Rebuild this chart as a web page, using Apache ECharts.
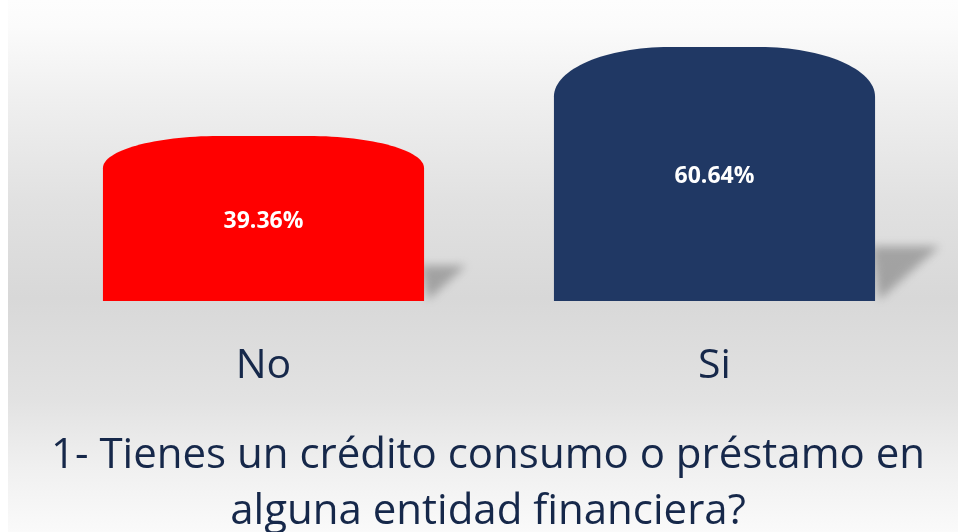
<!DOCTYPE html>
<html>
<head>
<meta charset="utf-8">
<script src="https://cdn.jsdelivr.net/npm/echarts@6/dist/echarts.min.js"></script>
<style>
  html, body { margin: 0; padding: 0; background: #ffffff; }
  #chart { width: 958px; height: 532px; }
</style>
</head>
<body>
<div id="chart"></div>
<script>
const categories = ['No', 'Si'];
const values = [39.36, 60.64];
const barColors = ['#ff0000', '#203864'];
const titleLines = ['1- Tienes un crédito consumo o préstamo en', 'alguna entidad financiera?'];

const textColor = '#16284a';
const chart = echarts.init(document.getElementById('chart'), null, { renderer: 'canvas' });

function renderItem(params, api) {
  const idx = api.value(0);
  const v = api.value(1);
  const top = api.coord([idx, v]);
  const base = api.coord([idx, 0]);
  const bw = api.size([1, 0])[0] * 0.712;
  const x0 = top[0] - bw / 2, x1 = top[0] + bw / 2;
  const yt = top[1], yb = base[1];
  const h = yb - yt;
  const ry = 0.195 * h;
  const rx = 0.36 * bw;
  const k = 0.5523;
  const d = [
    'M', x0, yb,
    'L', x0, yt + ry,
    'C', x0, yt + ry - k * ry, x0 + rx - k * rx, yt, x0 + rx, yt,
    'L', x1 - rx, yt,
    'C', x1 - rx + k * rx, yt, x1, yt + ry - k * ry, x1, yt + ry,
    'L', x1, yb, 'Z'
  ].join(' ');
  const sh = 0.215 * h, sw = 0.255 * h;
  const off = 3000;
  return {
    type: 'group',
    children: [
      {
        type: 'polygon',
        shape: { points: [[x1 - 4 - off, yb - sh], [x1 + sw - off, yb - sh], [x1 + 4 - off, yb - 1]] },
        style: {
          fill: '#000',
          shadowBlur: 10,
          shadowColor: 'rgba(105,105,105,0.5)',
          shadowOffsetX: off,
          shadowOffsetY: 0
        }
      },
      {
        type: 'path',
        shape: { pathData: d },
        style: { fill: barColors[idx] }
      },
      {
        type: 'text',
        style: {
          text: v.toFixed(2) + '%',
          x: top[0],
          y: (yt + yb) / 2 + 2.5,
          align: 'center',
          verticalAlign: 'middle',
          fill: '#ffffff',
          fontFamily: 'Open Sans',
          fontWeight: 'bold',
          fontSize: 23
        }
      }
    ]
  };
}

const option = {
  backgroundColor: '#ffffff',
  animation: false,
  graphic: [
    {
      type: 'rect', z: -10, silent: true,
      shape: { x: 8, y: 0, width: 950, height: 532 },
      style: {
        fill: {
          type: 'linear', x: 0, y: 0, x2: 0, y2: 1,
          colorStops: [
            { offset: 0, color: '#fdfdfd' },
            { offset: 0.05, color: '#fbfbfb' },
            { offset: 0.19, color: '#efefef' },
            { offset: 0.38, color: '#e1e1e1' },
            { offset: 0.56, color: '#d8d8d8' },
            { offset: 0.75, color: '#e2e2e2' },
            { offset: 0.88, color: '#f0f0f0' },
            { offset: 1, color: '#fafafa' }
          ]
        }
      }
    },
    {
      type: 'text', x: 488, y: 456, z: 10,
      style: {
        text: titleLines[0], align: 'center', verticalAlign: 'middle',
        fill: textColor, fontFamily: 'Open Sans', fontSize: 42
      }
    },
    {
      type: 'text', x: 488, y: 512, z: 10,
      style: {
        text: titleLines[1], align: 'center', verticalAlign: 'middle',
        fill: textColor, fontFamily: 'Open Sans', fontSize: 42
      }
    }
  ],
  grid: { left: 38, right: 18, top: 7.7, bottom: 231, containLabel: false },
  xAxis: {
    type: 'category',
    data: categories,
    axisLine: { show: false },
    axisTick: { show: false },
    splitLine: { show: false },
    axisLabel: {
      color: textColor,
      fontFamily: 'Open Sans',
      fontSize: 41,
      lineHeight: 42,
      margin: 44
    }
  },
  yAxis: {
    type: 'value', min: 0, max: 70, show: false,
    splitLine: { show: false }
  },
  series: [{
    type: 'custom',
    renderItem: renderItem,
    encode: { x: 0, y: 1 },
    data: values.map((v, i) => [i, v]),
    clip: false
  }]
};
chart.setOption(option);
</script>
</body>
</html>
